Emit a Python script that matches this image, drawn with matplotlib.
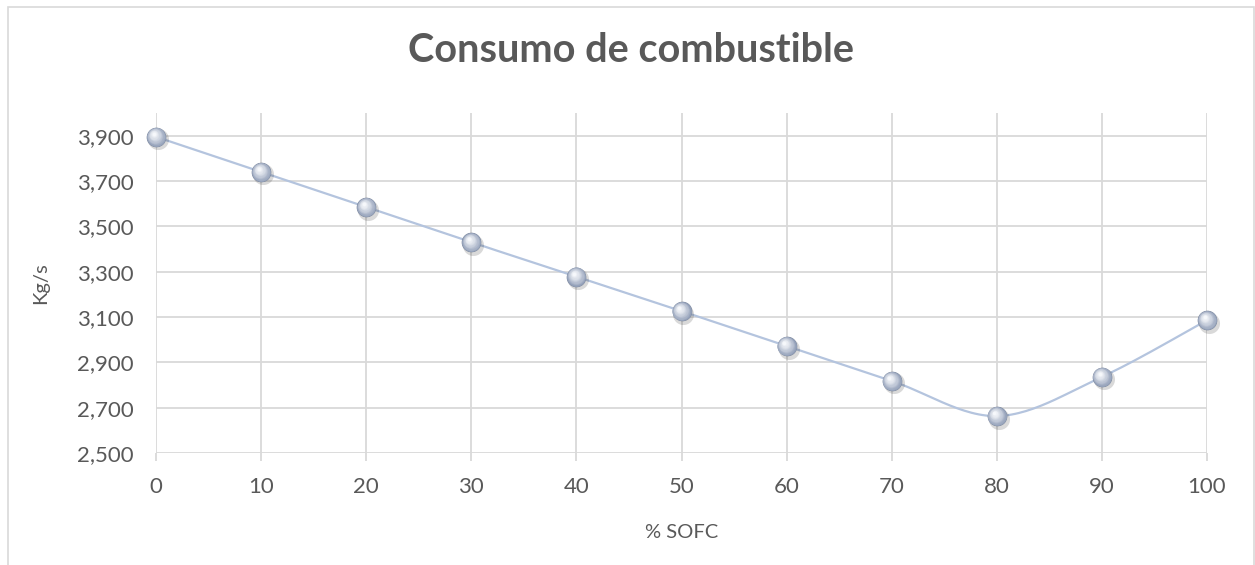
import numpy as np
import matplotlib
matplotlib.use("Agg")
import matplotlib.pyplot as plt
import matplotlib.transforms as mtransforms
from matplotlib.patches import Rectangle
from matplotlib.ticker import FuncFormatter

# datos
sofc = [0, 10, 20, 30, 40, 50, 60, 70, 80, 90, 100]
consumo = [3895, 3740, 3585, 3430, 3278, 3126, 2972, 2818, 2663, 2836, 3086]
titulo = "Consumo de combustible"
etiqueta_x = "% SOFC"
etiqueta_y = "Kg/s"

plt.rcParams['font.family'] = ['Lato', 'DejaVu Sans']
gris_texto = '#595959'
gris_rejilla = '#d9d9d9'


def curva_suave(xs, ys, pasos=30):
    # curva tipo Excel: bezier con puntos de control a 1/6
    P = np.column_stack([xs, ys]).astype(float)
    n = len(P)
    out = []
    t = np.linspace(0, 1, pasos)[:, None]
    for i in range(n - 1):
        p0 = P[i - 1] if i > 0 else P[i]
        p1 = P[i]
        p2 = P[i + 1]
        p3 = P[i + 2] if i + 2 < n else P[i + 1]
        c1 = p1 + (p2 - p0) / 6
        c2 = p2 - (p3 - p1) / 6
        seg = ((1 - t) ** 3) * p1 + 3 * ((1 - t) ** 2) * t * c1 + 3 * (1 - t) * t ** 2 * c2 + t ** 3 * p2
        out.append(seg if i == 0 else seg[1:])
    out = np.vstack(out)
    return out[:, 0], out[:, 1]


fig = plt.figure(figsize=(12.55, 5.65), dpi=100)
ax = fig.add_axes([156 / 1255, 1 - 453 / 565, (1207 - 156) / 1255, (453 - 113) / 565])

# borde del grafico
fig.patches.append(Rectangle((8 / 1255, -0.05), (1254 - 8) / 1255, 1.05 - 7 / 565,
                             transform=fig.transFigure, fill=False,
                             edgecolor=gris_rejilla, linewidth=1.2))

ax.set_xlim(0, 100)
ax.set_ylim(2500, 4000)
ax.set_xticks(sofc)
ax.set_yticks(np.arange(2500, 4000, 200))
ax.yaxis.set_major_formatter(FuncFormatter(lambda v, p: f"{int(v):,}"))
ax.grid(True, color=gris_rejilla, linewidth=1.3)
ax.set_axisbelow(True)
for s in ax.spines.values():
    s.set_visible(False)
ax.tick_params(axis='y', length=0, pad=16, labelsize=16, labelcolor=gris_texto)
ax.tick_params(axis='x', length=6, width=1.3, color=gris_rejilla, pad=11,
               labelsize=16, labelcolor=gris_texto)

xs, ys = curva_suave(sofc, consumo)
ax.plot(xs, ys, color='#b4c4de', linewidth=1.6, zorder=3, clip_on=False)

# marcadores tipo esfera
def desplazar(dx, dy):
    return ax.transData + mtransforms.ScaledTranslation(dx / 72, dy / 72, fig.dpi_scale_trans)

ax.scatter(sofc, consumo, s=230, color='#000000', alpha=0.15, linewidths=0,
           transform=desplazar(1.4, -1.8), zorder=4, clip_on=False)
ax.scatter(sofc, consumo, s=200, color='#7d889c', linewidths=0, zorder=5, clip_on=False)
capas = 16
c0 = np.array([0x93, 0xa0, 0xb9]) / 255
c1 = np.array([0xf6, 0xf8, 0xfb]) / 255
for k in range(capas):
    f = k / (capas - 1)
    tam = 180 * (1 - f) ** 1.3 + 6
    col = c0 * (1 - f) + c1 * f
    ax.scatter(sofc, consumo, s=tam, color=col, linewidths=0,
               transform=desplazar(-1.7 * f, 2.1 * f), zorder=6 + k, clip_on=False)

ax.set_xlabel(etiqueta_x, fontsize=14.5, color=gris_texto, labelpad=20)
ax.set_ylabel(etiqueta_y, fontsize=14.5, color=gris_texto, labelpad=20)
fig.text(631 / 1255, 1 - 51 / 565, titulo, ha='center', va='center',
         fontsize=28.5, fontweight='bold', color=gris_texto)

fig.savefig("out.png", dpi=100)
